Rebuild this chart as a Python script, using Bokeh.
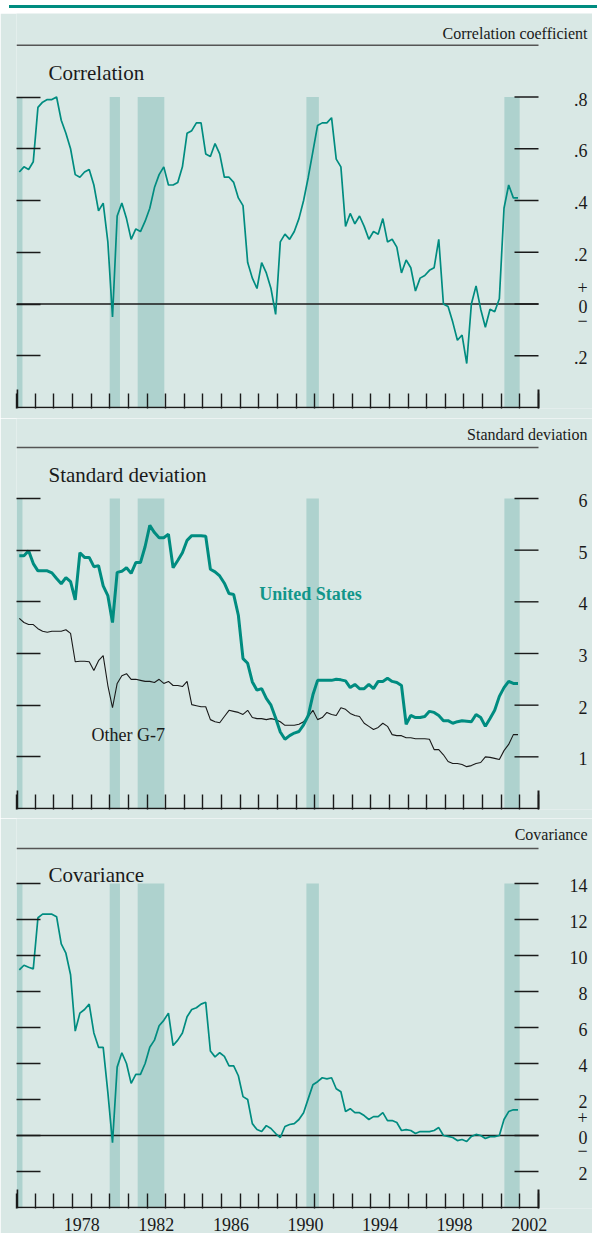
from bokeh.plotting import figure
from bokeh.layouts import column
from bokeh.models import FixedTicker, LinearAxis, Range1d, Div
from bokeh.embed import file_html
from bokeh.resources import INLINE
from bokeh.core.properties import value

# ---------------- data ----------------
quarters = [1975.15 + 0.25 * i for i in range(108)]  # 1975Q1 .. 2001Q4

correlation = [0.51, 0.53, 0.52, 0.55, 0.76, 0.78, 0.79, 0.79, 0.80, 0.71,
               0.66, 0.60, 0.50, 0.49, 0.51, 0.52, 0.46, 0.36, 0.39, 0.24,
               -0.05, 0.34, 0.39, 0.33, 0.25, 0.29, 0.28, 0.32, 0.37, 0.45,
               0.50, 0.53, 0.46, 0.46, 0.47, 0.53, 0.66, 0.67, 0.70, 0.70,
               0.58, 0.57, 0.62, 0.58, 0.49, 0.49, 0.47, 0.41, 0.38, 0.16,
               0.10, 0.06, 0.16, 0.12, 0.06, -0.04, 0.24, 0.27, 0.25, 0.28,
               0.33, 0.40, 0.49, 0.59, 0.69, 0.70, 0.70, 0.72, 0.56, 0.53,
               0.30, 0.35, 0.31, 0.34, 0.30, 0.25, 0.28, 0.27, 0.33, 0.24,
               0.25, 0.22, 0.12, 0.17, 0.14, 0.05, 0.10, 0.11, 0.13, 0.14,
               0.25, 0.00, -0.01, -0.07, -0.14, -0.12, -0.23, 0.00, 0.07, -0.02,
               -0.09, -0.02, -0.03, 0.02, 0.37, 0.46, 0.41, 0.41]

sd_us = [4.89, 4.89, 4.99, 4.74, 4.60, 4.60, 4.60, 4.56, 4.45, 4.35,
         4.47, 4.39, 4.04, 4.95, 4.86, 4.86, 4.68, 4.70, 4.31, 4.12,
         3.60, 4.57, 4.59, 4.66, 4.55, 4.76, 4.76, 5.07, 5.48, 5.34,
         5.24, 5.24, 5.31, 4.66, 4.80, 4.95, 5.19, 5.28, 5.28, 5.28,
         5.27, 4.63, 4.58, 4.50, 4.36, 4.16, 4.14, 3.74, 2.90, 2.81,
         2.45, 2.29, 2.32, 2.13, 2.00, 1.75, 1.48, 1.34, 1.41, 1.46,
         1.49, 1.62, 1.80, 2.20, 2.48, 2.48, 2.48, 2.48, 2.50, 2.49,
         2.47, 2.34, 2.40, 2.32, 2.32, 2.40, 2.32, 2.46, 2.46, 2.52,
         2.46, 2.44, 2.38, 1.63, 1.80, 1.76, 1.76, 1.78, 1.88, 1.86,
         1.80, 1.70, 1.70, 1.65, 1.68, 1.70, 1.69, 1.68, 1.82, 1.76,
         1.59, 1.74, 1.90, 2.17, 2.34, 2.46, 2.42, 2.42]

sd_g7 = [3.68, 3.60, 3.56, 3.56, 3.48, 3.43, 3.41, 3.43, 3.43, 3.43,
         3.46, 3.39, 2.84, 2.85, 2.85, 2.84, 2.67, 2.86, 2.96, 2.38,
         1.95, 2.42, 2.57, 2.61, 2.50, 2.50, 2.48, 2.46, 2.46, 2.44,
         2.50, 2.42, 2.46, 2.38, 2.38, 2.36, 2.46, 2.01, 1.99, 1.97,
         1.97, 1.72, 1.68, 1.66, 1.78, 1.90, 1.88, 1.86, 1.82, 1.90,
         1.76, 1.74, 1.74, 1.72, 1.74, 1.72, 1.68, 1.61, 1.61, 1.61,
         1.63, 1.68, 1.78, 1.90, 1.72, 1.76, 1.86, 1.82, 1.80, 1.95,
         1.92, 1.84, 1.80, 1.78, 1.65, 1.59, 1.53, 1.57, 1.65, 1.59,
         1.43, 1.41, 1.41, 1.37, 1.37, 1.35, 1.35, 1.35, 1.34, 1.14,
         1.14, 1.04, 0.91, 0.87, 0.87, 0.85, 0.81, 0.83, 0.87, 0.89,
         1.00, 0.99, 0.97, 0.95, 1.12, 1.24, 1.43, 1.43]

covariance = [9.20, 9.46, 9.35, 9.26, 12.10, 12.30, 12.30, 12.30, 12.16, 10.65,
              10.13, 8.93, 5.80, 6.80, 7.00, 7.30, 5.70, 4.90, 4.90, 2.40,
              -0.40, 3.80, 4.60, 4.00, 2.90, 3.40, 3.40, 4.00, 4.90, 5.30,
              6.10, 6.40, 6.80, 5.00, 5.30, 5.70, 6.60, 7.00, 7.10, 7.30,
              7.40, 4.70, 4.37, 4.60, 4.40, 3.87, 3.87, 3.32, 2.16, 2.00,
              0.66, 0.33, 0.22, 0.55, 0.39, 0.11, -0.11, 0.50, 0.61, 0.66,
              0.89, 1.27, 2.05, 2.82, 2.99, 3.21, 3.15, 3.21, 2.60, 2.43,
              1.33, 1.49, 1.27, 1.27, 1.11, 0.89, 1.05, 1.05, 1.27, 0.83,
              0.83, 0.72, 0.28, 0.33, 0.28, 0.11, 0.22, 0.22, 0.22, 0.28,
              0.44, 0.00, -0.05, -0.11, -0.28, -0.22, -0.33, -0.05, 0.06, 0.00,
              -0.17, -0.06, -0.06, 0.00, 0.89, 1.33, 1.43, 1.43]

rec_start = [1975.0, 1980.0, 1981.5, 1990.55, 2001.17]
rec_end = [1975.32, 1980.55, 1982.93, 1991.22, 2001.99]

year_ticks = list(range(1975, 2004))
label_years = [1978, 1982, 1986, 1990, 1994, 1998, 2002]

corr_ticks = [0.8, 0.6, 0.4, 0.2, 0.0, -0.2]
corr_labels = [".8", ".6", ".4", ".2", "0", ".2"]
sd_ticks = [6, 5, 4, 3, 2, 1]
sd_labels = ["6", "5", "4", "3", "2", "1"]
cov_ticks = [14, 12, 10, 8, 6, 4, 2, 0, -2]
cov_labels = ["14", "12", "10", "8", "6", "4", "2", "0", "2"]

# ---------------- styles ----------------
BG = "#d9e8e5"
REC = "#aed2ce"
TEAL = "#008c80"
INK = "#1a1a1a"
RULE = "#555555"
FONT = "Liberation Serif"
PX_YEAR = 522 / 28.0
X0, X1 = 1975, 2003
XE = X0 + 576 / PX_YEAR        # right edge of the canvas
XR = X0 + 571 / PX_YEAR        # right edge of texts on the right
XPM = X0 + 566 / PX_YEAR       # centre of +/- signs
XT = X0 + 32 / PX_YEAR         # left edge of panel titles
XTICK = X1 - 24 / PX_YEAR      # start of right-hand tick marks


def txt(p, x, y, s, size, align="left", color=INK, style="normal"):
    p.text(x=[x], y=[y], text=[s], text_align=align, text_baseline="middle",
           text_font=value(FONT), text_font_size=value(size), text_color=color,
           text_font_style=style)


def panel(height, axis_val, k, bb, rec_top, ticks, labels, header,
          unit_text, unit_y, title_text, title_y, xlabels=False):
    H = height - bb
    y0 = axis_val - 1.0 / k
    y1 = y0 + H / k
    p = figure(width=592, height=height, x_range=Range1d(X0, XE), y_range=Range1d(y0, y1),
               output_backend="svg", toolbar_location=None,
               x_axis_type=None, y_axis_type=None,
               min_border_left=16, min_border_right=0, min_border_top=0,
               min_border_bottom=bb,
               background_fill_color=BG, border_fill_color=BG, outline_line_color=None)
    p.quad(left=rec_start, right=rec_end, bottom=y0, top=rec_top,
           fill_color=REC, line_color=None)

    xa = LinearAxis(ticker=FixedTicker(ticks=[y + 0.5 for y in label_years] if xlabels else [],
                                       minor_ticks=year_ticks),
                    major_tick_in=0, major_tick_out=0,
                    minor_tick_in=15, minor_tick_out=0,
                    minor_tick_line_color=INK, minor_tick_line_width=1.4,
                    axis_line_color=None,
                    major_label_standoff=9, major_label_text_font=FONT,
                    major_label_text_font_size="18px",
                    major_label_text_color=INK,
                    major_label_overrides={y + 0.5: str(y) for y in label_years})
    p.add_layout(xa, "below")
    # axis base line and taller end ticks
    p.segment(x0=[X0], x1=[X1], y0=[axis_val], y1=[axis_val], line_color=INK, line_width=1.6)
    p.segment(x0=[X0 + 0.04, X1], x1=[X0 + 0.04, X1], y0=[y0] * 2,
              y1=[axis_val + 18.0 / k] * 2, line_color=INK, line_width=2.0)

    la = LinearAxis(ticker=FixedTicker(ticks=[], minor_ticks=ticks),
                    major_tick_in=0, major_tick_out=0,
                    minor_tick_in=24, minor_tick_out=0,
                    axis_line_color=None, minor_tick_line_color=INK, minor_tick_line_width=1.4)
    p.add_layout(la, "left")
    # right-hand tick marks and labels
    p.segment(x0=[XTICK] * len(ticks), x1=[X1] * len(ticks), y0=ticks, y1=ticks,
              line_color=INK, line_width=1.4)
    p.text(x=[XR] * len(ticks), y=ticks, text=labels, text_align="right",
           text_baseline="middle", text_font=value(FONT), text_font_size=value("18px"),
           text_color=INK, y_offset=2)

    p.segment(x0=[X0], x1=[X1], y0=[header], y1=[header], line_color=RULE, line_width=1.5)
    txt(p, XR, unit_y, unit_text, "16px", align="right")
    txt(p, XT, title_y, title_text, "21px")
    return p


def signs(p, y_plus, y_minus):
    p.text(x=[XPM, XPM], y=[y_plus, y_minus], text=["+", "\u2212"], text_align="center",
           text_baseline="middle", text_font=value(FONT), text_font_size=value("18px"),
           text_color=INK)


# Panel 1: correlation
p1 = panel(405, -0.4, 258.75, 10, 0.8, corr_ticks, corr_labels, 1.0,
           "Correlation coefficient", 1.047, "Correlation", 0.891)
p1.segment(x0=[X0], x1=[X1], y0=[0], y1=[0], line_color=INK, line_width=1.3)
p1.line(quarters, correlation, line_color=TEAL, line_width=1.7)
signs(p1, 0.062, -0.062)

# Panel 2: standard deviation
p2 = panel(400, 0.0, 51.67, 9, 6, sd_ticks, sd_labels, 6.987,
           "Standard deviation", 7.238, "Standard deviation", 6.464)
p2.line(quarters, sd_g7, line_color=INK, line_width=1.1)
p2.line(quarters, sd_us, line_color=TEAL, line_width=3.0)
txt(p2, 1988.02, 4.161, "United States", "18px", color="#12968a", style="bold")
txt(p2, 1979.02, 1.413, "Other G-7", "18px")

# Panel 3: covariance
p3 = panel(415, -4.0, 18.09, 23, 14, cov_ticks, cov_labels, 15.95,
           "Covariance", 16.73, "Covariance", 14.47, xlabels=True)
p3.segment(x0=[X0], x1=[X1], y0=[0], y1=[0], line_color=INK, line_width=1.3)
p3.line(quarters, covariance, line_color=TEAL, line_width=1.7)
signs(p3, 1.0, -0.85)

bar = Div(width=592, height=3,
          styles={"background": "linear-gradient(to right, #ffffff 4px, %s 4px)" % TEAL})
layout = column(bar, p1, p2, p3, spacing=0)

open("out.html", "w").write(file_html(layout, INLINE))
